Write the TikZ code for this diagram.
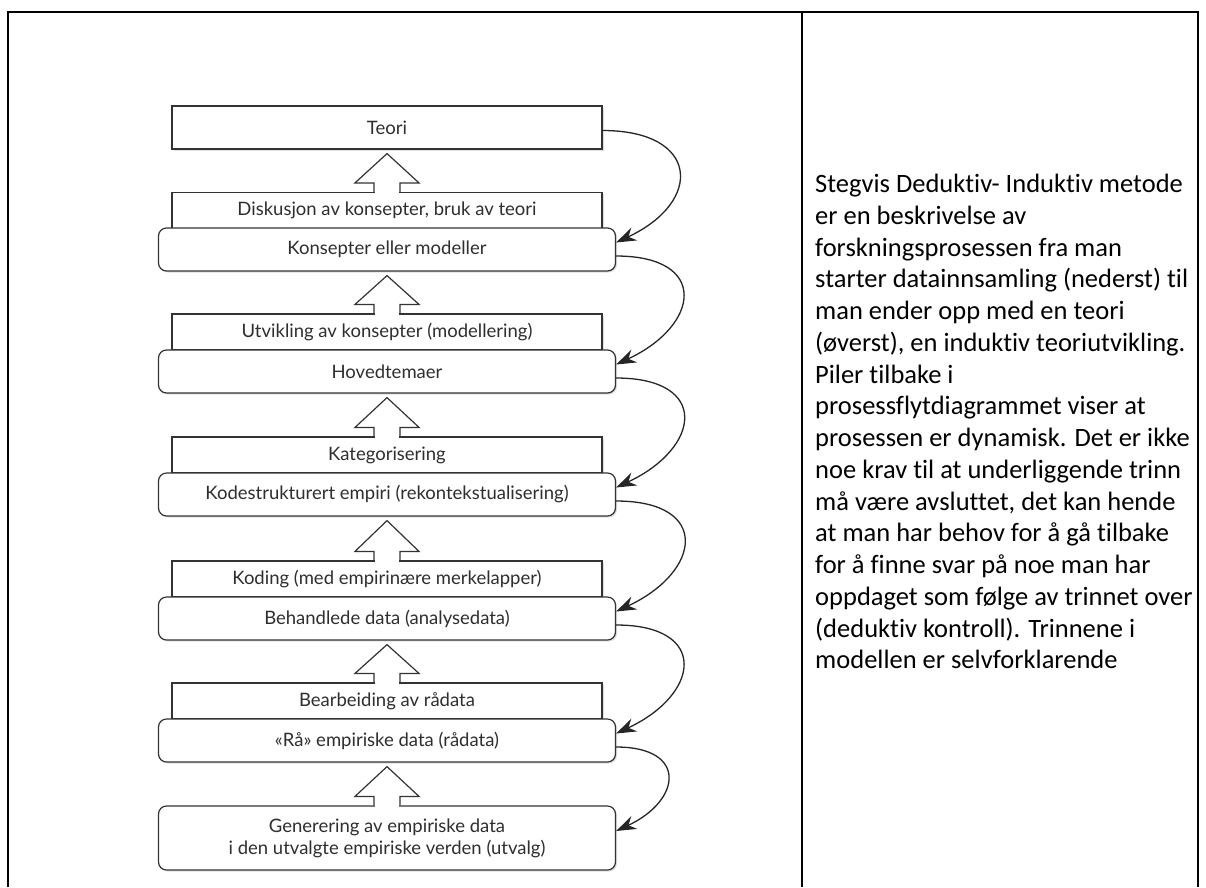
\documentclass[tikz,border=0pt]{standalone}
\usepackage{fontspec}
\setmainfont{Lato}
\newfontfamily\wordfont[Ligatures=NoCommon]{Carlito}
\usetikzlibrary{arrows.meta,shadows}

\newcommand{\stegpil}[2]{%
  \fill[white] ([xshift=-12.4pt,yshift=-1.6pt]#1.north) rectangle ([xshift=12.4pt,yshift=1.6pt]#1.north);
  \draw[pil] ([xshift=-13pt]#1.north) -- ++(0,9) -- ++(-19,0) -- ([yshift=-4pt]#2.south)
    -- ([xshift=32pt,yshift=9pt]#1.north) -- ++(-19,0) -- ++(0,-9);
}

\begin{document}
\begin{tikzpicture}[x=1pt,y=1pt,
    prosess/.style={draw=black!80, line width=1.2pt, fill=white, text=black!82,
      minimum width=430pt, minimum height=36pt, inner sep=0pt, font=\fontsize{18.5}{22}\selectfont,
      drop shadow={opacity=0.25, shadow xshift=1.5pt, shadow yshift=-1.5pt}},
    resultat/.style={prosess, rounded corners=8pt, minimum width=457pt, minimum height=43pt},
    pil/.style={draw=black!80, line width=1.2pt, line join=miter},
    tilbake/.style={draw=black!85, line width=1.3pt, -{Stealth[length=20pt,width=14pt]}},
    tekst/.style={anchor=north west, align=left, inner sep=0pt,
      font=\wordfont\fontsize{26.5}{31.75}\selectfont}]

    \useasboundingbox (0,0) rectangle (1206,-887);

    \draw[line width=2.5pt] (8,-887) -- (8,-12) -- (1198,-12) -- (1198,-887);
    \draw[line width=2.5pt] (802,-12) -- (802,-887);

    \node[prosess, minimum height=43pt] (teori) at (387,-127.5) {Teori};

    \node[prosess] (diskusjon) at (387,-210.5) {Diskusjon av konsepter, bruk av teori};
    \node[resultat] (konsepter) at (387,-249.5) {Konsepter eller modeller};

    \node[prosess] (utvikling) at (387,-332) {Utvikling av konsepter (modellering)};
    \node[resultat] (hoved) at (387,-371.5) {Hovedtemaer};

    \node[prosess] (kategori) at (387,-455) {Kategorisering};
    \node[resultat] (kode) at (387,-494.5) {Kodestrukturert empiri (rekontekstualisering)};

    \node[prosess] (koding) at (387,-579) {Koding (med empirinære merkelapper)};
    \node[resultat] (behandlet) at (387,-618.5) {Behandlede data (analysedata)};

    \node[prosess] (bearbeid) at (387,-701) {Bearbeiding av rådata};
    \node[resultat] (raa) at (387,-740.5) {«Rå» empiriske data (rådata)};

    \node[resultat, minimum height=64pt, align=center] (generering) at (387,-838)
      {Generering av empiriske data\\i den utvalgte empiriske verden (utvalg)};

    \stegpil{diskusjon}{teori}
    \stegpil{utvikling}{konsepter}
    \stegpil{kategori}{hoved}
    \stegpil{koding}{kode}
    \stegpil{bearbeid}{behandlet}
    \stegpil{generering}{raa}

    \draw[tilbake] ([yshift=-3pt]teori.east) to[out=0,in=25,looseness=2.2] ([yshift=7pt]konsepter.east);
    \draw[tilbake] ([yshift=-6.5pt]konsepter.east) to[out=0,in=25,looseness=2.2] ([yshift=7pt]hoved.east);
    \draw[tilbake] ([yshift=-6.5pt]hoved.east) to[out=0,in=25,looseness=2.2] ([yshift=7pt]kode.east);
    \draw[tilbake] ([yshift=-6.5pt]kode.east) to[out=0,in=25,looseness=2.2] ([yshift=7pt]behandlet.east);
    \draw[tilbake] ([yshift=-6.5pt]behandlet.east) to[out=0,in=25,looseness=2.2] ([yshift=7pt]raa.east);
    \draw[tilbake] ([yshift=-6.5pt]raa.east) to[out=0,in=25,looseness=2.2] ([yshift=7pt]generering.east);

    \node[tekst] (forklaring) at (815,-174) {Stegvis Deduktiv- Induktiv metode\\
      er en beskrivelse av\\
      forskningsprosessen fra man\\
      starter datainnsamling (nederst) til\\
      man ender opp med en teori\\
      (øverst), en induktiv teoriutvikling.\\
      Piler tilbake i\\
      prosessflytdiagrammet viser at\\
      prosessen er dynamisk. Det er ikke\\
      noe krav til at underliggende trinn\\
      må være avsluttet, det kan hende\\
      at man har behov for å gå tilbake\\
      for å finne svar på noe man har\\
      oppdaget som følge av trinnet over\\
      (deduktiv kontroll). Trinnene i\\
      modellen er selvforklarende};

\end{tikzpicture}
\end{document}
